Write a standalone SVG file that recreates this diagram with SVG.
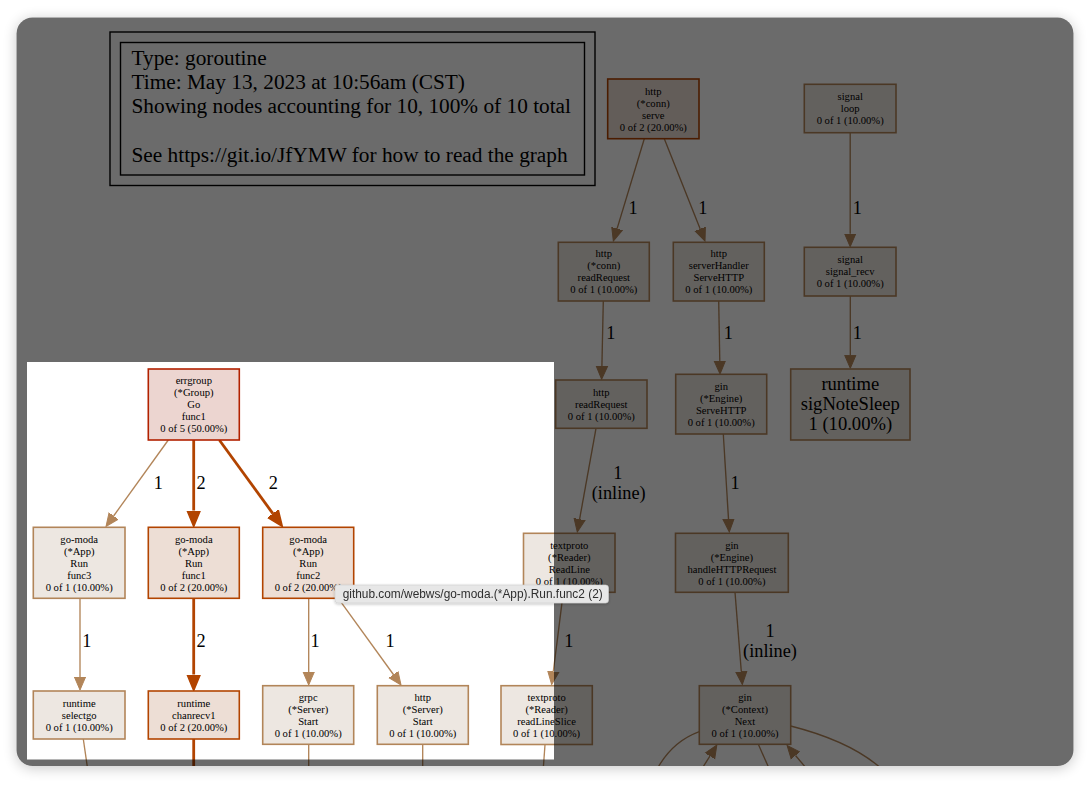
<svg xmlns="http://www.w3.org/2000/svg" width="1092" height="785" viewBox="0 0 1092 785">
<style>
.nt{font-family:"Liberation Serif","Times New Roman",serif;font-size:10.6px;fill:#000;text-anchor:middle}
.big{font-family:"Liberation Serif","Times New Roman",serif;font-size:18.6px;fill:#000;text-anchor:middle}
.el{font-family:"Liberation Serif","Times New Roman",serif;font-size:18.3px;fill:#000;text-anchor:middle}
.lg{font-family:"Liberation Serif","Times New Roman",serif;font-size:21.3px;fill:#000}
.p10{fill:#ede7e1;stroke:#b28559;stroke-width:1.6}
.p20{fill:#edded5;stroke:#b24400;stroke-width:1.6}
.p50{fill:#ecd5d0;stroke:#b22100;stroke-width:1.6}
.e1{fill:none;stroke:#b28559;stroke-width:1.35}
.e2{fill:none;stroke:#b24400;stroke-width:2.8}
.a1{marker-end:url(#ah1)}
.a2{marker-end:url(#ah2)}
</style>
<defs>
<marker id="ah1" markerUnits="userSpaceOnUse" viewBox="0 -7 15 14" markerWidth="15" markerHeight="14" refX="0" refY="0" orient="auto">
<path d="M0,-5.6 L13,0 L0,5.6 Z" fill="#b28559" stroke="#b28559" stroke-width="1"/>
</marker>
<marker id="ah2" markerUnits="userSpaceOnUse" viewBox="0 -9 18 18" markerWidth="18" markerHeight="18" refX="0" refY="0" orient="auto">
<path d="M0,-6.6 L16,0 L0,6.6 Z" fill="#b24400" stroke="#b24400" stroke-width="1.5"/>
</marker>
<clipPath id="win"><rect x="16.5" y="17.5" width="1057" height="748.5" rx="16"/></clipPath>
<filter id="shadow" x="-5%" y="-5%" width="110%" height="112%">
<feGaussianBlur in="SourceAlpha" stdDeviation="7"/>
<feOffset dy="2"/>
<feComponentTransfer><feFuncA type="linear" slope="0.22"/></feComponentTransfer>
<feMerge><feMergeNode/><feMergeNode in="SourceGraphic"/></feMerge>
</filter>
<filter id="tshadow" x="-5%" y="-30%" width="110%" height="180%">
<feGaussianBlur in="SourceAlpha" stdDeviation="1.5"/>
<feOffset dy="1"/>
<feComponentTransfer><feFuncA type="linear" slope="0.25"/></feComponentTransfer>
<feMerge><feMergeNode/><feMergeNode in="SourceGraphic"/></feMerge>
</filter>
</defs>
<rect width="1092" height="785" fill="#ffffff"/>
<rect x="16.5" y="17.5" width="1057" height="748.5" rx="16" fill="#ffffff" filter="url(#shadow)"/>
<g clip-path="url(#win)">
<g id="legend">
<rect x="110" y="32" width="485" height="153.5" fill="none" stroke="#000" stroke-width="1.4"/>
<rect x="120.5" y="42.5" width="464" height="132.5" fill="none" stroke="#000" stroke-width="1.4"/>
<text class="lg" x="131.5" y="65">Type: goroutine</text>
<text class="lg" x="131.5" y="89">Time: May 13, 2023 at 10:56am (CST)</text>
<text class="lg" x="131.5" y="113">Showing nodes accounting for 10, 100% of 10 total</text>
<text class="lg" x="131.5" y="161.5">See https://git.io/JfYMW for how to read the graph</text>
</g>
<g id="connectors">
<path class="e1 a1" d="M644.3,138.7 L617.1,228.6"/>
<text class="el" x="633" y="214">1</text>
<path class="e1 a1" d="M664.3,138.7 L700.2,228.9"/>
<text class="el" x="702.7" y="214">1</text>
<path class="e1 a1" d="M850.2,132.7 L850.2,233.7"/>
<text class="el" x="857.3" y="214">1</text>
<path class="e1 a1" d="M603.3,301 L601.9,366.3"/>
<text class="el" x="610.7" y="339">1</text>
<path class="e1 a1" d="M718.7,301 L719.8,361"/>
<text class="el" x="728.3" y="339">1</text>
<path class="e1 a1" d="M850.3,296 L850.3,355.3"/>
<text class="el" x="857.3" y="339">1</text>
<path class="e1 a1" d="M596,428.3 L579.6,519.2"/>
<text class="el" x="617.7" y="479">1</text>
<text class="el" x="618.7" y="499">(inline)</text>
<path class="e1 a1" d="M723.3,434 L728.5,519"/>
<text class="el" x="735" y="489">1</text>
<path class="e1 a1" d="M563.3,592.3 L553.3,671.6"/>
<text class="el" x="568.7" y="647">1</text>
<path class="e1 a1" d="M735,592.3 L741.3,671.5"/>
<text class="el" x="770" y="637">1</text>
<text class="el" x="770" y="657">(inline)</text>
<path class="e1 a1" d="M168.3,440 L113.6,516"/>
<text class="el" x="158.3" y="489">1</text>
<path class="e2 a2" d="M193.7,440 L193.7,510.5"/>
<text class="el" x="201" y="489">2</text>
<path class="e2 a2" d="M219.3,440 L272.9,513.6"/>
<text class="el" x="273.3" y="489">2</text>
<path class="e1 a1" d="M80,598.3 L80,677"/>
<text class="el" x="86.7" y="647">1</text>
<path class="e2 a2" d="M193.7,598.3 L193.7,674.5"/>
<text class="el" x="201" y="647">2</text>
<path class="e1 a1" d="M308.7,598.3 L308.7,672"/>
<text class="el" x="315" y="647">1</text>
<path class="e1 a1" d="M338.3,598.3 L393.4,674.5"/>
<text class="el" x="390" y="647">1</text>
<path class="e1" d="M83.3,739 L88.5,775"/>
<path class="e2" d="M193.7,739 L193.7,775"/>
<path class="e1" d="M308.7,744.3 L308.7,775"/>
<path class="e1" d="M422.7,744.3 L422.7,775"/>
<path class="e1" d="M545,744.7 L542.8,775"/>
<path class="e1" d="M699.3,731.7 C682,738 665,752 654,775"/>
<path class="e1 a1" d="M698,775 L709.9,756.1"/>
<path class="e1" d="M758.3,744.3 L772,775"/>
<path class="e1 a1" d="M812,775 L795.5,755.5"/>
<path class="e1" d="M790.7,726 C830,736 866,752 888,775"/>
</g>
<g id="n-serve">
<rect class="p20" x="607.7" y="79" width="91.3" height="59.7"/>
<text class="nt" x="653.3" y="94.5">http</text><text class="nt" x="653.3" y="106.5">(*conn)</text><text class="nt" x="653.3" y="118.5">serve</text><text class="nt" x="653.3" y="130.5">0 of 2 (20.00%)</text>
</g>
<g id="n-loop">
<rect class="p10" x="804.3" y="84.3" width="91.7" height="48.4"/>
<text class="nt" x="850.2" y="99.8">signal</text><text class="nt" x="850.2" y="111.8">loop</text><text class="nt" x="850.2" y="123.8">0 of 1 (10.00%)</text>
</g>
<g id="n-readRequestConn">
<rect class="p10" x="558.3" y="242.3" width="91" height="58.7"/>
<text class="nt" x="603.8" y="257.4">http</text><text class="nt" x="603.8" y="269.4">(*conn)</text><text class="nt" x="603.8" y="281.4">readRequest</text><text class="nt" x="603.8" y="293.4">0 of 1 (10.00%)</text>
</g>
<g id="n-serverHandler">
<rect class="p10" x="673.3" y="242.3" width="91" height="58.7"/>
<text class="nt" x="718.8" y="257.4">http</text><text class="nt" x="718.8" y="269.4">serverHandler</text><text class="nt" x="718.8" y="281.4">ServeHTTP</text><text class="nt" x="718.8" y="293.4">0 of 1 (10.00%)</text>
</g>
<g id="n-signal_recv">
<rect class="p10" x="804.3" y="247.3" width="91.7" height="48.7"/>
<text class="nt" x="850.2" y="263.4">signal</text><text class="nt" x="850.2" y="275.4">signal_recv</text><text class="nt" x="850.2" y="287.4">0 of 1 (10.00%)</text>
</g>
<g id="n-readRequest">
<rect class="p10" x="555.7" y="380" width="91.3" height="48.3"/>
<text class="nt" x="601.3" y="395.9">http</text><text class="nt" x="601.3" y="407.9">readRequest</text><text class="nt" x="601.3" y="419.9">0 of 1 (10.00%)</text>
</g>
<g id="n-ginServeHTTP">
<rect class="p10" x="675.7" y="374.3" width="91" height="59.7"/>
<text class="nt" x="721.2" y="389.9">gin</text><text class="nt" x="721.2" y="401.9">(*Engine)</text><text class="nt" x="721.2" y="413.9">ServeHTTP</text><text class="nt" x="721.2" y="425.9">0 of 1 (10.00%)</text>
</g>
<g id="n-sigNoteSleep">
<rect class="p10" x="790.7" y="369" width="119.3" height="71"/>
<text class="big" x="850.3" y="390">runtime</text><text class="big" x="850.3" y="410">sigNoteSleep</text><text class="big" x="850.3" y="430">1 (10.00%)</text>
</g>
<g id="n-ReadLine">
<rect class="p10" x="523.5" y="533.3" width="91.5" height="59"/>
<text class="nt" x="569.3" y="548.5">textproto</text><text class="nt" x="569.3" y="560.5">(*Reader)</text><text class="nt" x="569.3" y="572.5">ReadLine</text><text class="nt" x="569.3" y="584.5">0 of 1 (10.00%)</text>
</g>
<g id="n-handleHTTPRequest">
<rect class="p10" x="675.5" y="533.3" width="112.8" height="59"/>
<text class="nt" x="731.9" y="548.5">gin</text><text class="nt" x="731.9" y="560.5">(*Engine)</text><text class="nt" x="731.9" y="572.5">handleHTTPRequest</text><text class="nt" x="731.9" y="584.5">0 of 1 (10.00%)</text>
</g>
<g id="n-readLineSlice">
<rect class="p10" x="501" y="685.7" width="91.3" height="58.8"/>
<text class="nt" x="546.6" y="700.8">textproto</text><text class="nt" x="546.6" y="712.8">(*Reader)</text><text class="nt" x="546.6" y="724.8">readLineSlice</text><text class="nt" x="546.6" y="736.8">0 of 1 (10.00%)</text>
</g>
<g id="n-ginNext">
<rect class="p10" x="699.3" y="685.7" width="91.4" height="58.6"/>
<text class="nt" x="745" y="700.7">gin</text><text class="nt" x="745" y="712.7">(*Context)</text><text class="nt" x="745" y="724.7">Next</text><text class="nt" x="745" y="736.7">0 of 1 (10.00%)</text>
</g>
<g id="n-errgroup">
<rect class="p50" x="148.3" y="369" width="91" height="71"/>
<text class="nt" x="193.8" y="384.2">errgroup</text><text class="nt" x="193.8" y="396.2">(*Group)</text><text class="nt" x="193.8" y="408.2">Go</text><text class="nt" x="193.8" y="420.2">func1</text><text class="nt" x="193.8" y="432.2">0 of 5 (50.00%)</text>
</g>
<g id="n-func3">
<rect class="p10" x="33.3" y="527.3" width="91.7" height="71"/>
<text class="nt" x="79.2" y="542.5">go-moda</text><text class="nt" x="79.2" y="554.5">(*App)</text><text class="nt" x="79.2" y="566.5">Run</text><text class="nt" x="79.2" y="578.5">func3</text><text class="nt" x="79.2" y="590.5">0 of 1 (10.00%)</text>
</g>
<g id="n-func1">
<rect class="p20" x="148.3" y="527.3" width="91" height="71"/>
<text class="nt" x="193.8" y="542.5">go-moda</text><text class="nt" x="193.8" y="554.5">(*App)</text><text class="nt" x="193.8" y="566.5">Run</text><text class="nt" x="193.8" y="578.5">func1</text><text class="nt" x="193.8" y="590.5">0 of 2 (20.00%)</text>
</g>
<g id="n-func2">
<rect class="p20" x="262.7" y="527.3" width="91" height="71"/>
<text class="nt" x="308.2" y="542.5">go-moda</text><text class="nt" x="308.2" y="554.5">(*App)</text><text class="nt" x="308.2" y="566.5">Run</text><text class="nt" x="308.2" y="578.5">func2</text><text class="nt" x="308.2" y="590.5">0 of 2 (20.00%)</text>
</g>
<g id="n-selectgo">
<rect class="p10" x="33.3" y="691" width="91.7" height="48"/>
<text class="nt" x="79.2" y="706.7">runtime</text><text class="nt" x="79.2" y="718.7">selectgo</text><text class="nt" x="79.2" y="730.7">0 of 1 (10.00%)</text>
</g>
<g id="n-chanrecv1">
<rect class="p20" x="148.3" y="691" width="91" height="48"/>
<text class="nt" x="193.8" y="706.7">runtime</text><text class="nt" x="193.8" y="718.7">chanrecv1</text><text class="nt" x="193.8" y="730.7">0 of 2 (20.00%)</text>
</g>
<g id="n-grpcStart">
<rect class="p10" x="262.7" y="685.7" width="91" height="58.6"/>
<text class="nt" x="308.2" y="700.7">grpc</text><text class="nt" x="308.2" y="712.7">(*Server)</text><text class="nt" x="308.2" y="724.7">Start</text><text class="nt" x="308.2" y="736.7">0 of 1 (10.00%)</text>
</g>
<g id="n-httpStart">
<rect class="p10" x="377.3" y="685.7" width="91" height="58.6"/>
<text class="nt" x="422.8" y="700.7">http</text><text class="nt" x="422.8" y="712.7">(*Server)</text><text class="nt" x="422.8" y="724.7">Start</text><text class="nt" x="422.8" y="736.7">0 of 1 (10.00%)</text>
</g>
<path id="overlay" fill="#000" fill-opacity="0.58" fill-rule="evenodd" d="M0,0H1092V785H0Z M27,362H554V759.5H27Z"/>
<g id="tooltip" filter="url(#tshadow)">
<rect x="335" y="585" width="273.5" height="18" rx="3" fill="#e7e7e7" stroke="#cfcfcf" stroke-width="0.6"/>
<text x="342.7" y="598.3" font-family="'Liberation Sans', Arial, sans-serif" font-size="12" fill="#2e2e2e" textLength="260" lengthAdjust="spacingAndGlyphs">github.com/webws/go-moda.(*App).Run.func2 (2)</text>
</g>
</g>
</svg>
